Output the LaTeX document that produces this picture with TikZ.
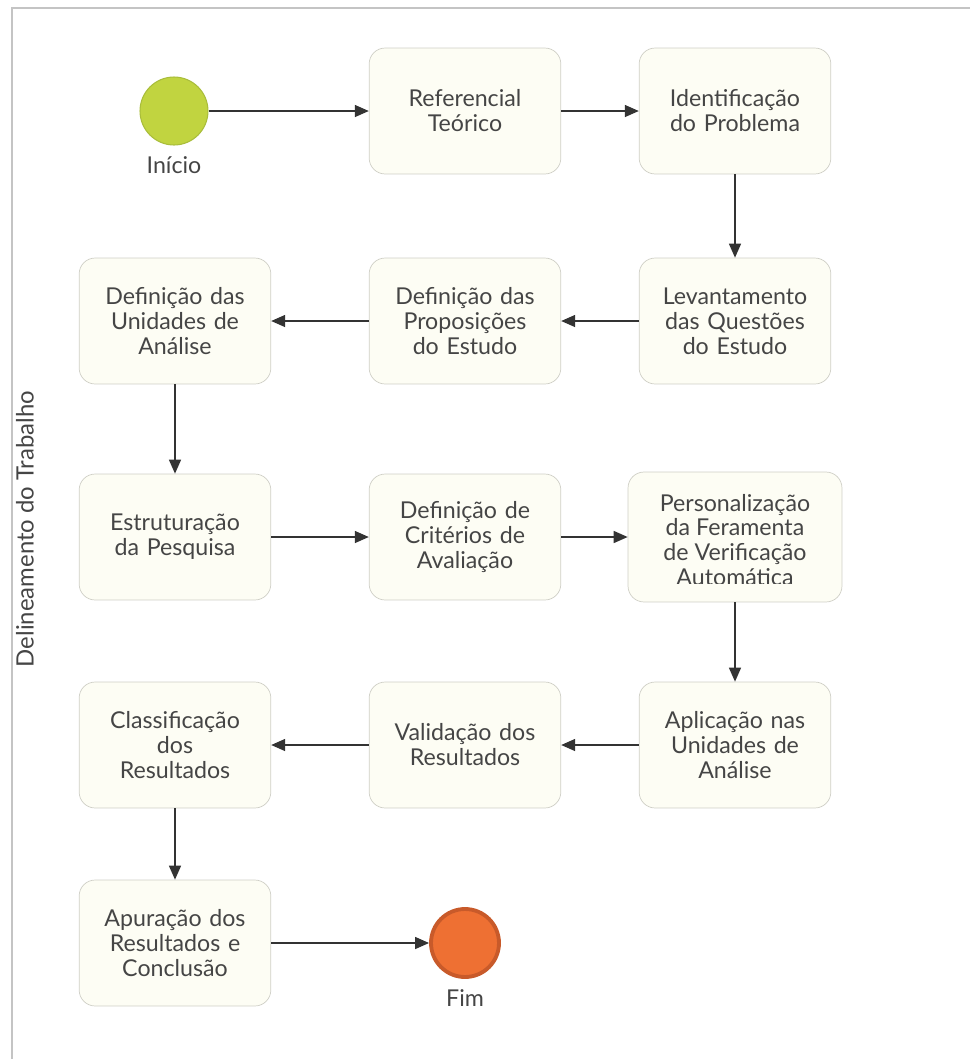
\documentclass[tikz,border=0pt]{standalone}
\usepackage{fontspec}
\setmainfont{Lato}
\usepackage{xcolor}
\usepackage{tikz}
\usetikzlibrary{positioning, shapes, arrows.meta, calc}

\definecolor{boxfill}{HTML}{FDFDF4}
\definecolor{boxline}{HTML}{CFCFC6}
\definecolor{txtgray}{HTML}{454545}
\definecolor{linegray}{HTML}{333333}
\definecolor{framegray}{HTML}{C4C4C4}
\definecolor{startgreen}{HTML}{C1D440}
\definecolor{startline}{HTML}{A9BD3B}
\definecolor{endorange}{HTML}{EE7033}
\definecolor{endline}{HTML}{C85A2A}

\begin{document}
\begin{tikzpicture}[x=0.02cm, y=-0.02cm,
  stepbox/.style={draw=boxline, fill=boxfill, rounded corners=0.32cm,
    minimum width=3.8cm, minimum height=2.52cm, text width=3.6cm,
    align=center, text=txtgray, font=\fontsize{13.2}{14.2}\selectfont},
  flow/.style={draw=linegray, line width=0.8pt,
    -{Triangle[length=0.28cm, width=0.24cm]}},
  eventlabel/.style={text=txtgray, font=\fontsize{13.2}{14.2}\selectfont}]

  \useasboundingbox (0,0) rectangle (970,1059);

  % Frame and lane title
  \draw[framegray, line width=1.2pt] (970,8) -- (12,8) -- (12,1059);
  \node[rotate=90, text=txtgray, font=\fontsize{13.6}{14}\selectfont] (lane) at (25,529) {Delineamento do Trabalho};

  % Start and end events
  \node[circle, draw=startline, fill=startgreen, line width=0.6pt, minimum size=1.36cm] (inicio) at (174,111) {};
  \node[eventlabel, below=0.1cm of inicio] (inicioLbl) {Início};
  \node[circle, draw=endline, fill=endorange, line width=2.2pt, minimum size=1.36cm] (fim) at (465,943) {};
  \node[eventlabel, below=0.08cm of fim] (fimLbl) {Fim};

  % Row 1
  \node[stepbox] (refer) at (465,111) {Referencial\\Teórico};
  \node[stepbox] (ident) at (735,111) {Identificação\\do Problema};

  % Row 2
  \node[stepbox] (levant) at (735,321) {Levantamento\\das Questões\\do Estudo};
  \node[stepbox] (propos) at (465,321) {Definição das\\Proposições\\do Estudo};
  \node[stepbox] (unid) at (175,321) {Definição das\\Unidades de\\Análise};

  % Row 3
  \node[stepbox] (estrut) at (175,537) {Estruturação\\da Pesquisa};
  \node[stepbox] (crit) at (465,537) {Definição de\\Critérios de\\Avaliação};
  \node[stepbox, minimum width=4.28cm, minimum height=2.6cm] (person) at (735,537) {};
  \begin{scope}
    \clip ($(person.north west)+(0,-0.05cm)$) rectangle ($(person.south east)+(0,0.38cm)$);
    \node[align=center, text=txtgray, font=\fontsize{13.2}{14.2}\selectfont] (personTxt) at ($(person.center)+(0,-0.06cm)$) {Personalização\\da Feramenta\\de Verificação\\Automática};
  \end{scope}

  % Row 4
  \node[stepbox] (aplic) at (735,745) {Aplicação nas\\Unidades de\\Análise};
  \node[stepbox] (valid) at (465,745) {Validação dos\\Resultados};
  \node[stepbox] (classif) at (175,745) {Classificação\\dos\\Resultados};

  % Row 5
  \node[stepbox] (apur) at (175,943) {Apuração dos\\Resultados e\\Conclusão};

  % Sequence flows
  \draw[flow] (inicio) -- (refer);
  \draw[flow] (refer) -- (ident);
  \draw[flow] (ident) -- (levant);
  \draw[flow] (levant) -- (propos);
  \draw[flow] (propos) -- (unid);
  \draw[flow] (unid) -- (estrut);
  \draw[flow] (estrut) -- (crit);
  \draw[flow] (crit) -- (person);
  \draw[flow] (person) -- (aplic);
  \draw[flow] (aplic) -- (valid);
  \draw[flow] (valid) -- (classif);
  \draw[flow] (classif) -- (apur);
  \draw[flow] (apur) -- (fim);
\end{tikzpicture}
\end{document}
